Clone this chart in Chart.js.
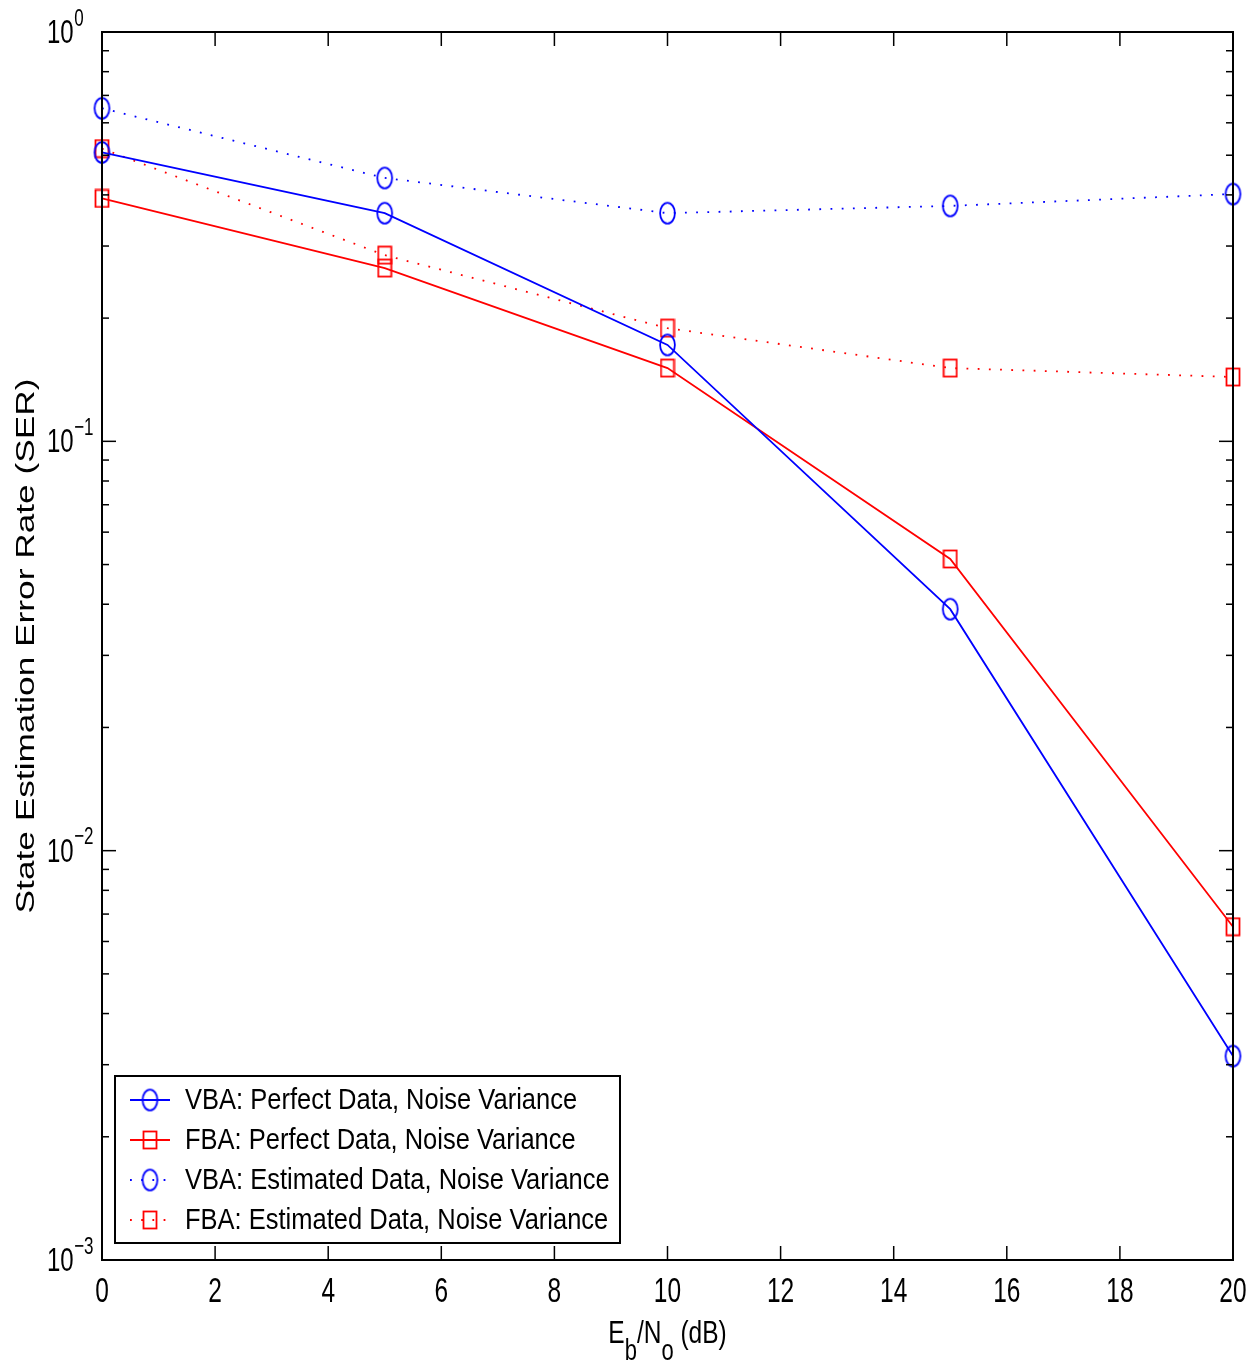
<!DOCTYPE html>
<html>
<head>
<meta charset="utf-8">
<title>SER vs Eb/No</title>
<script src="https://cdn.jsdelivr.net/npm/chart.js@4.4.1/dist/chart.umd.min.js"></script>
<style>
  html, body { margin: 0; padding: 0; background: #fff; }
  canvas { display: block; }
</style>
</head>
<body>
<canvas id="serChart" width="1257" height="1363"></canvas>
<script>
// Eb/No points (dB) and state estimation error rates per method
const ebno = [0, 5, 10, 15, 20];
const vbaPerfect   = [0.508, 0.361, 0.172, 0.0389, 0.00315];
const fbaPerfect   = [0.392, 0.265, 0.151, 0.0516, 0.00652];
const vbaEstimated = [0.651, 0.440, 0.361, 0.376, 0.402];
const fbaEstimated = [0.519, 0.285, 0.189, 0.151, 0.1436];

const seriesLabels = [
    'VBA: Perfect Data, Noise Variance',
    'FBA: Perfect Data, Noise Variance',
    'VBA: Estimated Data, Noise Variance',
    'FBA: Estimated Data, Noise Variance'
];

const xTicks = [0, 2, 4, 6, 8, 10, 12, 14, 16, 18, 20];
const yDecades = [-3, -2, -1, 0];

const BLUE = '#0000ff';
const RED = '#ff0000';
const FONT = '"Liberation Sans", Arial, sans-serif';

// MATLAB-style open markers (slightly stretched vertically)
function ellipseMarker(color) {
    const c = document.createElement('canvas');
    c.width = 19; c.height = 25;
    const g = c.getContext('2d');
    g.strokeStyle = color;
    g.lineWidth = 1.8;
    g.beginPath();
    g.ellipse(9.5, 12.5, 7.4, 10.4, 0, 0, Math.PI * 2);
    g.stroke();
    return c;
}

function squareMarker(color) {
    const c = document.createElement('canvas');
    c.width = 16; c.height = 20;
    const g = c.getContext('2d');
    g.strokeStyle = color;
    g.lineWidth = 1.8;
    g.strokeRect(1.5, 1.5, 13, 17);
    return c;
}

function toPoints(values) {
    return values.map((v, i) => ({ x: ebno[i], y: v }));
}

function makeSet(label, values, color, marker, dotted) {
    return {
        label: label,
        data: toPoints(values),
        borderColor: color,
        backgroundColor: color,
        borderWidth: dotted ? 1.8 : 1.8,
        borderDash: dotted ? [1.8, 9.4] : [],
        pointStyle: marker,
        pointRadius: 10,
        pointHoverRadius: 10,
        tension: 0,
        fill: false,
        clip: false
    };
}

// text squeezed sideways (tall glyphs), y is the vertical middle / baseline
function tallText(ctx, text, x, y, size, sy, align, baseline) {
    ctx.save();
    ctx.font = size + 'px ' + FONT;
    ctx.textAlign = align;
    ctx.textBaseline = baseline || 'middle';
    ctx.translate(x, y);
    ctx.scale(1, sy);
    ctx.fillText(text, 0, 0);
    ctx.restore();
}

function textWidth(ctx, text, size) {
    ctx.font = size + 'px ' + FONT;
    return ctx.measureText(text).width;
}

// box, inward ticks and tick labels
const axesFrame = {
    id: 'axesFrame',
    afterDatasetsDraw(chart) {
        const { ctx, chartArea: a, scales: { x, y } } = chart;
        ctx.save();
        ctx.strokeStyle = '#000';
        ctx.fillStyle = '#000';
        ctx.lineWidth = 1.5;
        const seg = (x1, y1, x2, y2) => {
            ctx.beginPath(); ctx.moveTo(x1, y1); ctx.lineTo(x2, y2); ctx.stroke();
        };

        xTicks.forEach(v => {
            const px = x.getPixelForValue(v);
            seg(px, a.bottom, px, a.bottom - 14);
            seg(px, a.top, px, a.top + 14);
            tallText(ctx, String(v), px, a.bottom + 32, 24.5, 1.42, 'center');
        });

        yDecades.forEach(e => {
            const py = y.getPixelForValue(Math.pow(10, e));
            seg(a.left, py, a.left + 14, py);
            seg(a.right, py, a.right - 14, py);
            const bw = textWidth(ctx, '10', 24);
            tallText(ctx, '10', 47, py + 1.5, 24, 1.42, 'left');
            tallText(ctx, e === 0 ? '0' : '\u2212' + (-e), 47 + bw + 0.5, py - 13, 17, 1.42, 'left');
            if (e < 0) {
                for (let m = 2; m <= 9; m++) {
                    const pm = y.getPixelForValue(m * Math.pow(10, e));
                    seg(a.left, pm, a.left + 7, pm);
                    seg(a.right, pm, a.right - 7, pm);
                }
            }
        });

        ctx.lineWidth = 2;
        ctx.strokeRect(a.left, a.top, a.right - a.left, a.bottom - a.top);

        // y title
        ctx.save();
        ctx.translate(27, (a.top + a.bottom) / 2);
        ctx.rotate(-Math.PI / 2);
        ctx.scale(1.41, 1);
        ctx.font = '25px ' + FONT;
        ctx.textAlign = 'center';
        ctx.textBaseline = 'middle';
        ctx.fillText('State Estimation Error Rate (SER)', 0, 0);
        ctx.restore();

        // x title: E_b/N_o (dB)
        const parts = [
            { t: 'E', sub: false }, { t: 'b', sub: true },
            { t: '/N', sub: false }, { t: 'o', sub: true },
            { t: ' (dB)', sub: false }
        ];
        const big = 24.5, small = 22;
        let total = 0;
        parts.forEach(p => { p.w = textWidth(ctx, p.t, p.sub ? small : big); total += p.w; });
        let cx = (a.left + a.right) / 2 - total / 2;
        parts.forEach(p => {
            tallText(ctx, p.t, cx, p.sub ? 1360 : 1343, p.sub ? small : big, 1.3, 'left', 'alphabetic');
            cx += p.w;
        });
        ctx.restore();
    }
};

// boxed legend in the lower-left corner of the axes
const boxLegend = {
    id: 'boxLegend',
    afterDraw(chart) {
        const { ctx, chartArea: a } = chart;
        const left = a.left + 13, top = 1076, w = 505, h = 167;
        ctx.save();
        ctx.fillStyle = '#fff';
        ctx.fillRect(left, top, w, h);
        ctx.strokeStyle = '#000';
        ctx.lineWidth = 2;
        ctx.strokeRect(left, top, w, h);
        chart.data.datasets.forEach((ds, i) => {
            const ly = top + 24 + i * 40;
            ctx.strokeStyle = ds.borderColor;
            ctx.lineWidth = ds.borderWidth;
            ctx.setLineDash(ds.borderDash);
            ctx.beginPath();
            ctx.moveTo(left + 15, ly);
            ctx.lineTo(left + 55, ly);
            ctx.stroke();
            ctx.setLineDash([]);
            const mk = ds.pointStyle;
            ctx.drawImage(mk, left + 35 - mk.width / 2, ly - mk.height / 2);
            ctx.fillStyle = '#000';
            tallText(ctx, ds.label, left + 70, ly + 1, 25.5, 1.15, 'left');
        });
        ctx.restore();
    }
};

new Chart(document.getElementById('serChart'), {
    type: 'line',
    data: {
        datasets: [
            makeSet(seriesLabels[0], vbaPerfect, BLUE, ellipseMarker(BLUE), false),
            makeSet(seriesLabels[1], fbaPerfect, RED, squareMarker(RED), false),
            makeSet(seriesLabels[2], vbaEstimated, BLUE, ellipseMarker(BLUE), true),
            makeSet(seriesLabels[3], fbaEstimated, RED, squareMarker(RED), true)
        ]
    },
    options: {
        responsive: false,
        animation: false,
        devicePixelRatio: 1,
        layout: { padding: { left: 102, top: 32, right: 24, bottom: 103 } },
        plugins: {
            legend: { display: false },
            tooltip: { enabled: false }
        },
        scales: {
            x: { type: 'linear', min: 0, max: 20, display: false },
            y: { type: 'logarithmic', min: 0.001, max: 1, display: false }
        }
    },
    plugins: [axesFrame, boxLegend]
});
</script>
</body>
</html>
